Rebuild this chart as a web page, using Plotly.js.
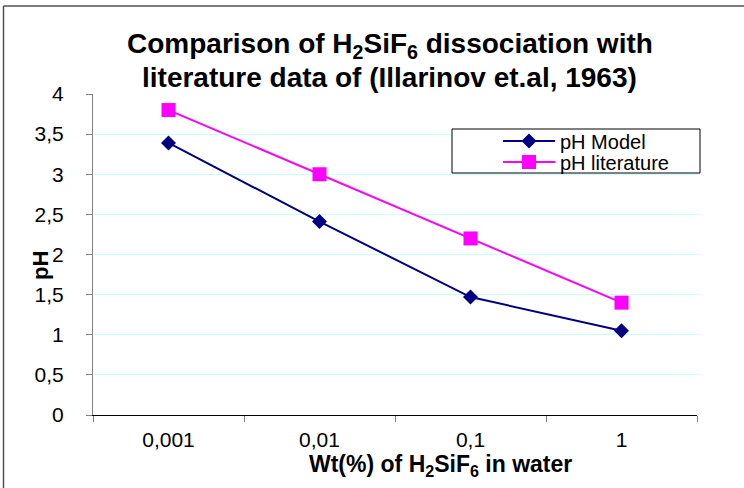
<!DOCTYPE html>
<html>
<head>
<meta charset="utf-8">
<script src="https://cdn.plot.ly/plotly-3.0.1.min.js"></script>
<style>
html,body{margin:0;padding:0;background:#fff;}
#chart{width:744px;height:488px;}
</style>
</head>
<body>
<div id="chart"></div>
<script>
const categories = ["0,001", "0,01", "0,1", "1"];
const phModel = [3.39, 2.41, 1.47, 1.05];
const phLiterature = [3.8, 3.0, 2.2, 1.4];
const yTickVals = [0, 0.5, 1, 1.5, 2, 2.5, 3, 3.5, 4];
const yTickText = ["0", "0,5", "1", "1,5", "2", "2,5", "3", "3,5", "4"];
const titleLines = ["<b>Comparison of H<sub>2</sub>SiF<sub>6</sub> dissociation with</b>",
                    "<b>literature data of (Illarinov et.al, 1963)</b>"];
const xTitle = "<b>Wt(%) of H<sub>2</sub>SiF<sub>6</sub> in water</b>";
const yTitle = "<b>pH</b>";

const FONT = "Liberation Sans, Arial, sans-serif";
const L = 93, R = 697, T = 94, B = 415;
const W = R - L, H = B - T;
const px = x => (x - L) / W;
const py = y => (B - y) / H;

const traces = [
  {
    x: categories, y: phModel, name: "pH Model", type: "scatter", mode: "lines+markers",
    line: {color: "#000080", width: 2},
    marker: {symbol: "diamond", size: 11.5, color: "#000080"},
    legend: "legend"
  },
  {
    x: categories, y: phLiterature, name: "pH literature", type: "scatter", mode: "lines+markers",
    line: {color: "#ff00ff", width: 2},
    marker: {symbol: "square", size: 14, color: "#ff00ff"},
    legend: "legend2"
  }
];

const legendBase = (yc) => ({
  x: px(498), y: py(yc), xanchor: "left", yanchor: "middle",
  bgcolor: "rgba(0,0,0,0)", borderwidth: 0,
  font: {family: FONT, size: 20},
  tracegroupgap: 0, itemwidth: 52
});

const annFont = (s) => ({family: FONT, size: s, color: "#000"});
const layout = {
  width: 744, height: 488,
  margin: {l: L, r: 744 - R, t: T, b: 488 - B, pad: 0},
  paper_bgcolor: "#ffffff", plot_bgcolor: "#ffffff",
  font: {family: FONT, color: "#000000", size: 21},
  xaxis: {
    type: "category", range: [-0.5, 3.5],
    showgrid: false, zeroline: false,
    showline: true, linecolor: "#000000", linewidth: 1,
    ticks: "outside", ticklen: 6, tickcolor: "#808080", tickson: "boundaries",
    tickfont: {family: FONT, size: 21},
    ticklabelstandoff: 6
  },
  yaxis: {
    range: [0, 4], tickvals: yTickVals, ticktext: yTickText,
    showgrid: true, gridcolor: "#ccffff", gridwidth: 1, zeroline: false,
    showline: true, linecolor: "#808080", linewidth: 1,
    ticks: "outside", ticklen: 6, tickcolor: "#808080",
    tickfont: {family: FONT, size: 21},
    ticklabelstandoff: 18
  },
  showlegend: true,
  legend: legendBase(141),
  legend2: legendBase(162),
  annotations: [
    {text: titleLines[0], xref: "paper", yref: "paper", x: px(390), y: py(45), xanchor: "center", yanchor: "middle", showarrow: false, font: annFont(28)},
    {text: titleLines[1], xref: "paper", yref: "paper", x: px(389), y: py(77), xanchor: "center", yanchor: "middle", showarrow: false, font: annFont(28)},
    {text: xTitle, xref: "paper", yref: "paper", x: px(440), y: py(466), xanchor: "center", yanchor: "middle", showarrow: false, font: annFont(23)},
    {text: yTitle, xref: "paper", yref: "paper", x: px(40), y: py(266), xanchor: "center", yanchor: "middle", textangle: -90, showarrow: false, font: annFont(22)}
  ],
  shapes: [
    {type: "rect", xref: "paper", yref: "paper", x0: px(452), x1: px(700), y0: py(129), y1: py(173), line: {color: "#000000", width: 1}, fillcolor: "#ffffff", layer: "above"},
    {type: "line", xref: "paper", yref: "paper", x0: px(3.5), x1: px(760), y0: py(6), y1: py(6), line: {color: "#505050", width: 1.5}},
    {type: "line", xref: "paper", yref: "paper", x0: px(3.5), x1: px(3.5), y0: py(6), y1: py(500), line: {color: "#505050", width: 1.5}}
  ]
};

Plotly.newPlot("chart", traces, layout, {displayModeBar: false, staticPlot: true});
</script>
</body>
</html>
